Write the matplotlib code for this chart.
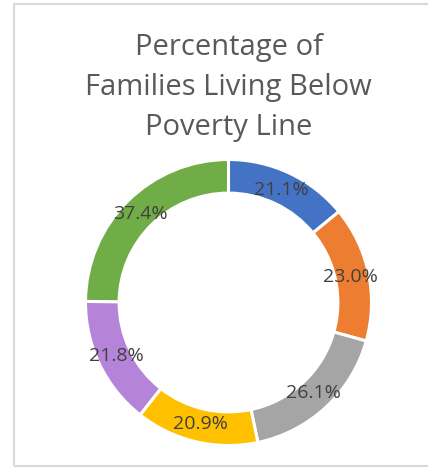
import matplotlib
matplotlib.use("Agg")
import matplotlib.pyplot as plt
from matplotlib.patches import Rectangle
import numpy as np

values = [21.1, 23.0, 26.1, 20.9, 21.8, 37.4]
labels = ["21.1%", "23.0%", "26.1%", "20.9%", "21.8%", "37.4%"]
colors = ["#4472C4", "#ED7D31", "#A5A5A5", "#FFC000", "#B584D8", "#70AD47"]
title = "Percentage of\nFamilies Living Below\nPoverty Line"

W, H = 428, 468
fig = plt.figure(figsize=(W / 100, H / 100), dpi=100)
fig.patch.set_facecolor("white")

# chart frame
fig.add_artist(Rectangle((14 / W, 2 / H), 1.2, (462) / H, transform=fig.transFigure,
                         fill=False, edgecolor="#D9D9D9", linewidth=1.5))

cx, cy, r = 228.5, 302.5, 143
ax = fig.add_axes([(cx - r) / W, (H - cy - r) / H, 2 * r / W, 2 * r / H])
wedges, _ = ax.pie(values, colors=colors, startangle=90, counterclock=False,
                   radius=1.0, wedgeprops=dict(width=0.235, edgecolor="white", linewidth=2.2))
total = sum(values)
start = 90.0
for v, lab in zip(values, labels):
    ang = np.deg2rad(start - v / total * 360 / 2)
    rr = 0.87
    ax.text(rr * np.cos(ang), rr * np.sin(ang), lab, ha="center", va="center",
            fontsize=14, color="#404040", family="Open Sans")
    start -= v / total * 360
ax.set_xlim(-1, 1)
ax.set_ylim(-1, 1)
ax.set_aspect("equal")
ax.axis("off")

fig.text(cx / W, 1 - 88 / H, title, ha="center", va="center", fontsize=21,
         color="#595959", family="Open Sans", linespacing=1.5)

fig.savefig("out.png", dpi=100)
